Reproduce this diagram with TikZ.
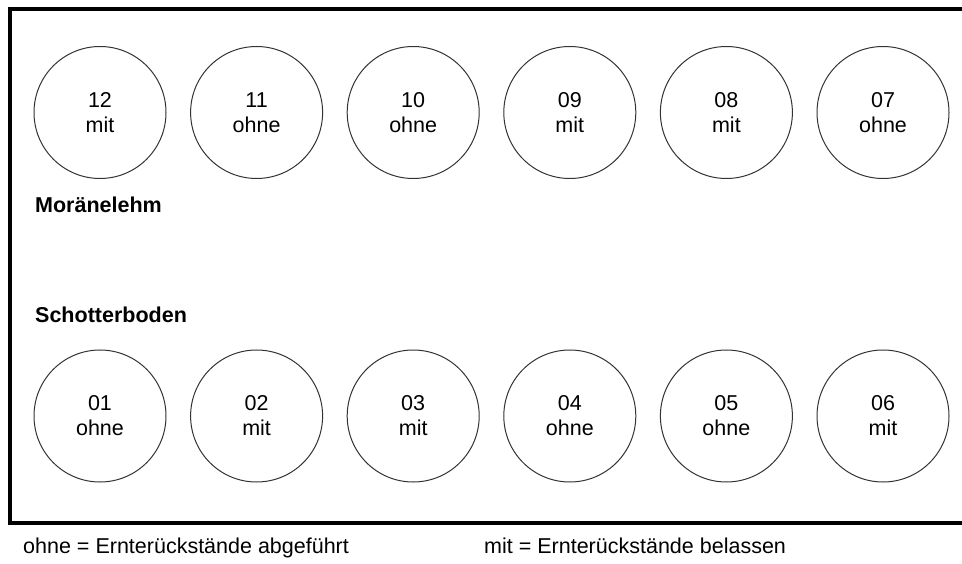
\documentclass[tikz,border=0pt]{standalone}
\usepackage{fontspec}
\setmainfont{Liberation Sans}
\begin{document}
\begin{tikzpicture}[x=1pt,y=-1pt,
  plot/.style={circle,draw=black!80,line width=1pt,minimum size=132pt,inner sep=0pt,align=center,font=\fontsize{21.5}{25}\selectfont},
  soil/.style={anchor=base west,inner sep=0pt,font=\fontsize{21.5}{25}\selectfont\bfseries},
  legend/.style={anchor=base west,inner sep=0pt,font=\fontsize{21.5}{25}\selectfont},
  frame/.style={line width=4pt,line join=miter}]
\useasboundingbox (0,0) rectangle (962,564);
\draw[frame] (962,9.5) -- (9.5,9.5) -- (9.5,523) -- (962,523);
\foreach \i/\n/\t in {0/12/mit,1/11/ohne,2/10/ohne,3/09/mit,4/08/mit,5/07/ohne}
  \node[plot] (p\n) at ({100+156.6*\i},112.5) {\n\\\t};
\foreach \i/\n/\t in {0/01/ohne,1/02/mit,2/03/mit,3/04/ohne,4/05/ohne,5/06/mit}
  \node[plot] (p\n) at ({100+156.6*\i},416) {\n\\\t};
\node[soil] (moraene) at (35,213) {Moränelehm};
\node[soil] (schotter) at (35,323) {Schotterboden};
\node[legend] (ohne) at (23,553) {ohne = Ernterückstände abgeführt};
\node[legend] (mit) at (484,553) {mit = Ernterückstände belassen};
\end{tikzpicture}
\end{document}
